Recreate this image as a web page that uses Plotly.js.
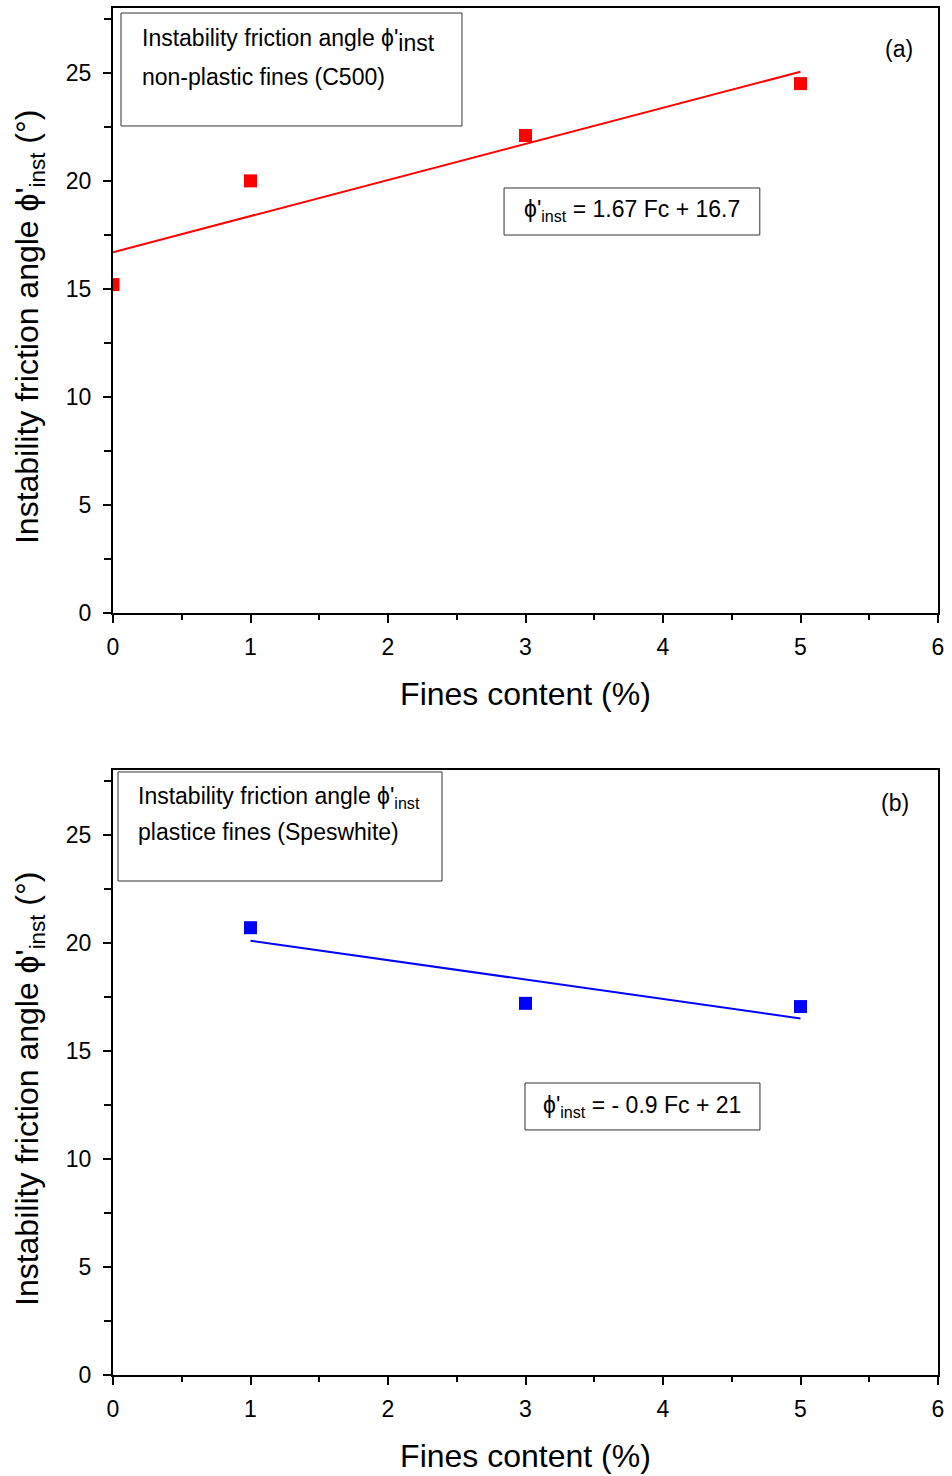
<!DOCTYPE html>
<html>
<head>
<meta charset="utf-8">
<script src="https://cdn.plot.ly/plotly-3.0.1.min.js"></script>
<style>html,body{margin:0;padding:0;background:#fff;}#chart{width:952px;height:1476px;}</style>
</head>
<body>
<div id="chart"></div>
<script>
// Panel (a): non-plastic fines (C500)
const finesA = [0, 1, 3, 5];
const phiA = [15.2, 20.0, 22.1, 24.5];
const fitXA = [0, 5];
const fitYA = [16.7, 25.05];

// Panel (b): plastic fines (Speswhite)
const finesB = [1, 3, 5];
const phiB = [20.7, 17.2, 17.05];
const fitXB = [1, 5];
const fitYB = [20.1, 16.5];

const xTicks = [0, 1, 2, 3, 4, 5, 6];
const yTicks = [0, 5, 10, 15, 20, 25];

const xTitle = 'Fines content (%)';
const yTitle = "Instability friction angle ϕ'<sub>inst</sub> (°)";

const FONT = 'Liberation Sans, Arial, sans-serif';

const traces = [
  {x: finesA, y: phiA, xaxis: 'x', yaxis: 'y', mode: 'markers', type: 'scatter',
   marker: {symbol: 'square', size: 13, color: '#ff0000'}, cliponaxis: true, showlegend: false},
  {x: fitXA, y: fitYA, xaxis: 'x', yaxis: 'y', mode: 'lines', type: 'scatter',
   line: {color: '#ff0000', width: 2}, showlegend: false},
  {x: finesB, y: phiB, xaxis: 'x2', yaxis: 'y2', mode: 'markers', type: 'scatter',
   marker: {symbol: 'square', size: 13, color: '#0000ff'}, cliponaxis: true, showlegend: false},
  {x: fitXB, y: fitYB, xaxis: 'x2', yaxis: 'y2', mode: 'lines', type: 'scatter',
   line: {color: '#0000ff', width: 2}, showlegend: false}
];

function xAxis(anchor) {
  return {
    anchor: anchor, domain: [0, 1], range: [0, 6], tickvals: xTicks, ticktext: xTicks.map(String),
    showgrid: false, zeroline: false, showline: true, linecolor: '#000', linewidth: 2, mirror: true,
    ticks: 'outside', ticklen: 8, tickwidth: 2, tickcolor: '#000', ticklabelstandoff: 4,
    tickfont: {family: FONT, size: 23, color: '#000'},
    minor: {dtick: 0.5, tick0: 0, ticks: 'outside', ticklen: 5, tickwidth: 2, tickcolor: '#000', showgrid: false},
    title: {text: xTitle, font: {family: FONT, size: 32, color: '#000'}, standoff: 24},
    automargin: false
  };
}
function yAxis(anchor, domain) {
  return {
    anchor: anchor, domain: domain, range: [0, 28], tickvals: yTicks, ticktext: yTicks.map(String),
    showgrid: false, zeroline: false, showline: true, linecolor: '#000', linewidth: 2, mirror: true,
    ticks: 'outside', ticklen: 8, tickwidth: 2, tickcolor: '#000', ticklabelstandoff: 7,
    tickfont: {family: FONT, size: 23, color: '#000'},
    minor: {dtick: 2.5, tick0: 0, ticks: 'outside', ticklen: 7, tickwidth: 2, tickcolor: '#000', showgrid: false},
    automargin: false
  };
}

const boxLine = {color: '#333', width: 1};
const shapes = [
  {type: 'rect', xref: 'x domain', yref: 'y domain', x0: 0.0097, x1: 0.423, y0: 0.805, y1: 0.9917, line: boxLine, fillcolor: 'rgba(0,0,0,0)'},
  {type: 'rect', xref: 'x domain', yref: 'y domain', x0: 0.474, x1: 0.784, y0: 0.6248, y1: 0.7025, line: boxLine, fillcolor: 'rgba(0,0,0,0)'},
  {type: 'rect', xref: 'x2 domain', yref: 'y2 domain', x0: 0.0061, x1: 0.3988, y0: 0.8165, y1: 0.9967, line: boxLine, fillcolor: 'rgba(0,0,0,0)'},
  {type: 'rect', xref: 'x2 domain', yref: 'y2 domain', x0: 0.4994, x1: 0.7842, y0: 0.405, y1: 0.4826, line: boxLine, fillcolor: 'rgba(0,0,0,0)'}
];

const tf = {family: FONT, size: 23, color: '#000'};
const ytf = {family: FONT, size: 32, color: '#000'};
const annotations = [
  {xref: 'paper', yref: 'y domain', x: -0.1018, y: 0.4727, xanchor: 'center', yanchor: 'middle', showarrow: false,
   textangle: -90, text: yTitle, font: ytf},
  {xref: 'paper', yref: 'y2 domain', x: -0.1018, y: 0.4727, xanchor: 'center', yanchor: 'middle', showarrow: false,
   textangle: -90, text: yTitle, font: ytf},
  {xref: 'x domain', yref: 'y domain', x: 0.0327, y: 0.947, xanchor: 'left', yanchor: 'middle', showarrow: false,
   text: "Instability friction angle ϕ'<sub><span style=\"font-size:23px\">inst</span></sub>", font: tf},
  {xref: 'x domain', yref: 'y domain', x: 0.0327, y: 0.886, xanchor: 'left', yanchor: 'middle', showarrow: false,
   text: 'non-plastic fines (C500)', font: tf},
  {xref: 'x domain', yref: 'y domain', x: 0.629, y: 0.6645, xanchor: 'center', yanchor: 'middle', showarrow: false,
   text: "ϕ'<sub>inst</sub> = 1.67 Fc + 16.7", font: tf},
  {xref: 'x domain', yref: 'y domain', x: 0.953, y: 0.932, xanchor: 'center', yanchor: 'middle', showarrow: false,
   text: '(a)', font: tf},
  {xref: 'x2 domain', yref: 'y2 domain', x: 0.0279, y: 0.955, xanchor: 'left', yanchor: 'middle', showarrow: false,
   text: "Instability friction angle ϕ'<sub>inst</sub>", font: tf},
  {xref: 'x2 domain', yref: 'y2 domain', x: 0.0279, y: 0.8975, xanchor: 'left', yanchor: 'middle', showarrow: false,
   text: 'plastice fines (Speswhite)', font: tf},
  {xref: 'x2 domain', yref: 'y2 domain', x: 0.641, y: 0.4446, xanchor: 'center', yanchor: 'middle', showarrow: false,
   text: "ϕ'<sub>inst</sub> = - 0.9 Fc + 21", font: tf},
  {xref: 'x2 domain', yref: 'y2 domain', x: 0.948, y: 0.945, xanchor: 'center', yanchor: 'middle', showarrow: false,
   text: '(b)', font: tf}
];

const layout = {
  width: 952, height: 1476,
  margin: {l: 113, r: 14, t: 8, b: 101, pad: 0},
  paper_bgcolor: '#fff', plot_bgcolor: '#fff',
  font: {family: FONT, color: '#000'},
  showlegend: false,
  xaxis: xAxis('y'),
  yaxis: yAxis('x', [0.5574, 1]),
  xaxis2: xAxis('y2'),
  yaxis2: yAxis('x2', [0, 0.4426]),
  shapes: shapes,
  annotations: annotations
};

Plotly.newPlot('chart', traces, layout, {displayModeBar: false, staticPlot: true});
</script>
</body>
</html>
